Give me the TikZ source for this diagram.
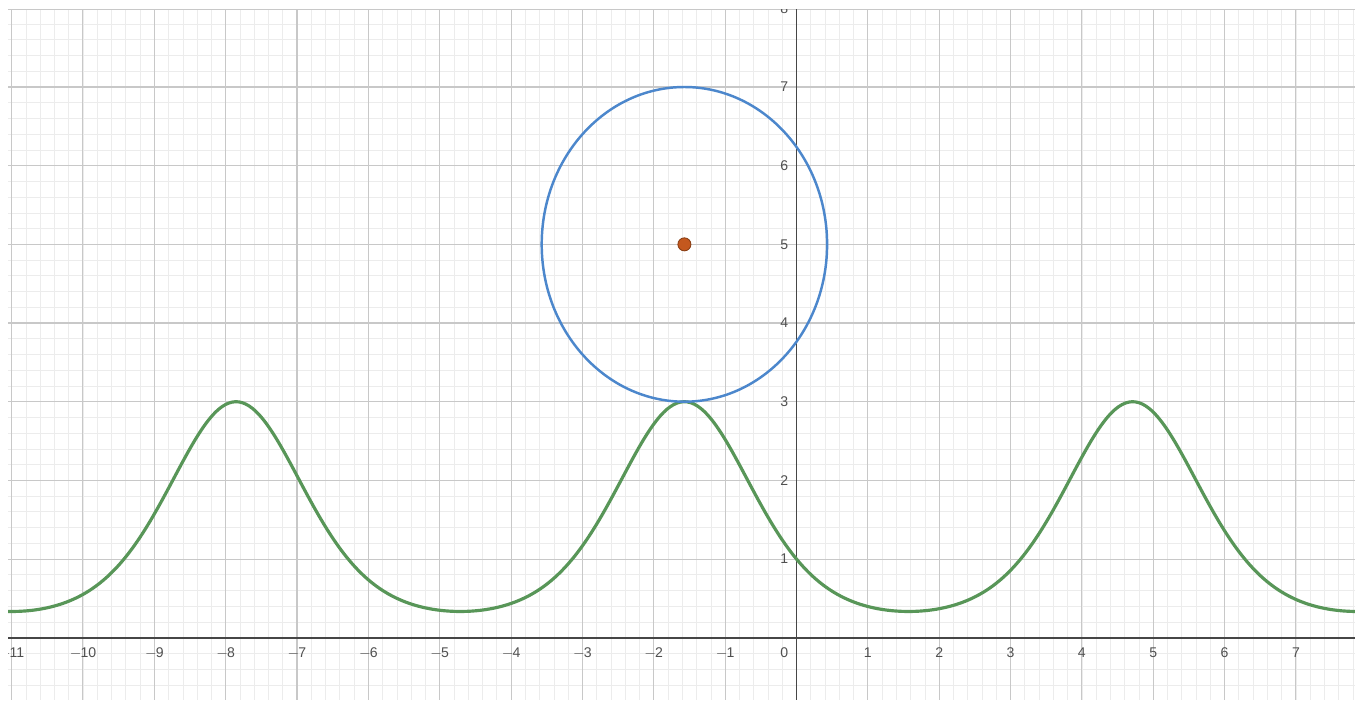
\documentclass[tikz,border=0pt]{standalone}
\usepackage{fontspec}
\setmainfont{Liberation Sans}
\usetikzlibrary{calc}

\definecolor{axisgray}{RGB}{70,70,70}
\definecolor{majorgray}{RGB}{200,200,200}
\definecolor{minorgray}{RGB}{236,236,236}
\definecolor{labelgray}{RGB}{80,80,80}
\definecolor{curvegreen}{RGB}{88,150,88}
\definecolor{circleblue}{RGB}{76,135,204}
\definecolor{dotorange}{RGB}{196,88,30}

\begin{document}
\begin{tikzpicture}[x=1.427cm,y=1.5734cm,
  minor/.style={line width=0.4pt,minorgray},
  major/.style={line width=0.6pt,majorgray},
  axis/.style={line width=1.1pt,axisgray},
  curve/.style={line width=1.8pt,curvegreen,line join=round},
  ring/.style={line width=1.4pt,circleblue},
  dot/.style={circle,fill=dotorange,draw=dotorange!70!black,line width=0.5pt,inner sep=0pt,minimum size=0.26cm},
  tick/.style={font=\fontsize{8}{9}\selectfont,text=labelgray,inner sep=0pt}]

\useasboundingbox (-11.163,-0.843) rectangle (7.828,8.106);

\coordinate (sw) at (-11.05,-0.79);
\coordinate (ne) at (7.828,7.99);

\begin{scope}
\clip (sw) rectangle (ne);
\fill[white] (sw) rectangle (ne);
\draw[minor] (-11.4,-1) grid[step=0.2] (8,8.2);
\draw[major] (-12,-1) grid[step=1] (8,8.2);
\draw[major] (sw |- ne) -- (ne);

\draw[axis] (sw |- 0,0) -- (ne |- 0,0);
\draw[axis] (0,0 |- sw) -- (0,0 |- ne);

% tick labels
\foreach \n in {-11,...,-1} \node[tick] at (\n,-0.195) {$\mathsf{-}$\kern-0.5pt\the\numexpr-\n\relax};
\foreach \n in {1,...,7} \node[tick] at (\n,-0.195) {\n};
\node[tick] at (-0.17,-0.195) {0};
\foreach \n in {1,...,8} \node[tick,anchor=east] at (-0.11,\n) {\n};

% graph and circle
\draw[curve] plot[domain=-11.1:7.9,samples=400,smooth] (\x,{exp(-1.0986123*sin(\x r))});
\coordinate (centre) at (-1.5708,5);
\draw[ring] (centre) circle[radius=2];
\node[dot] (pt) at (centre) {};
\end{scope}
\end{tikzpicture}
\end{document}
